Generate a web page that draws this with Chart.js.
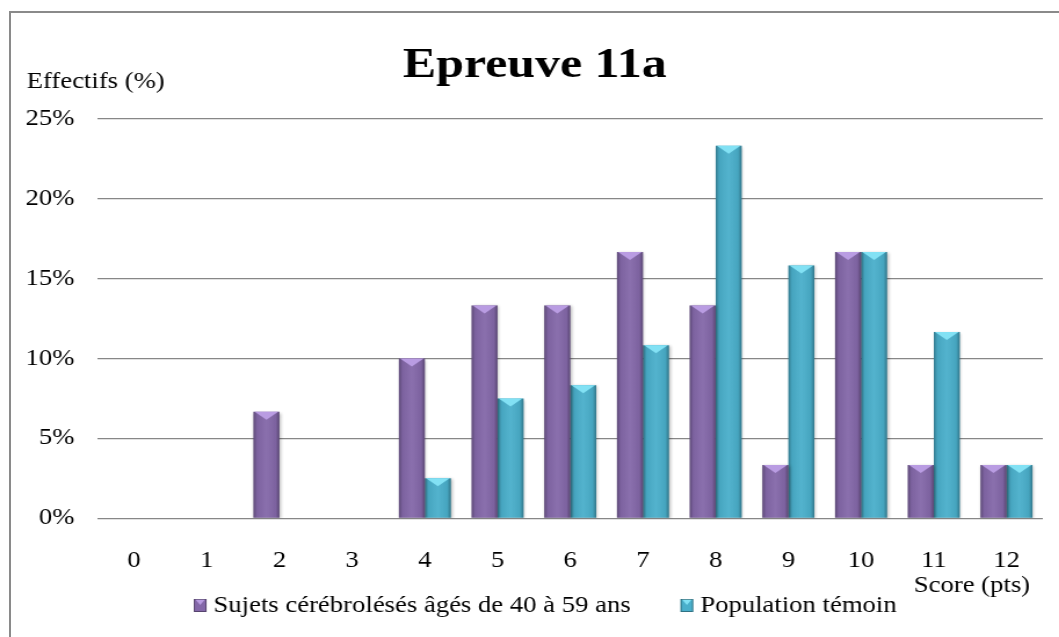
<!DOCTYPE html>
<html>
<head>
<meta charset="utf-8">
<title>Epreuve 11a</title>
<script src="https://cdn.jsdelivr.net/npm/chart.js@4.4.0/dist/chart.umd.min.js"></script>
<style>
  html, body { margin: 0; padding: 0; background: #fff; overflow: hidden; }
  #frame {
    position: absolute; left: 9px; top: 11px; width: 1200px; height: 800px;
    border-left: 2px solid #8a8a8a; border-top: 2px solid #8a8a8a;
  }
  /* the reference is stretched horizontally, so the canvas is too */
  #chart { position: absolute; left: 0; top: 0; transform: scaleX(1.16); transform-origin: 0 0; }
</style>
</head>
<body>
<div id="frame"></div>
<canvas id="chart" width="913" height="637"></canvas>
<script>
// Data
const scores  = ["0", "1", "2", "3", "4", "5", "6", "7", "8", "9", "10", "11", "12"];
const sujets  = [0, 0, 6.67, 0, 10, 13.33, 13.33, 16.67, 13.33, 3.33, 16.67, 3.33, 3.33];
const temoins = [0, 0, 0, 0, 2.5, 7.5, 8.33, 10.83, 23.33, 15.83, 16.67, 11.67, 3.33];
const yTicks  = [0, 5, 10, 15, 20, 25];

const SERIF = '"Liberation Serif", "Times New Roman", serif';
const GRID  = "#878787";

// titles, axis captions and legend drawn on top + bar bevels
const decor = {
  id: "decor",
  beforeDatasetsDraw(chart) {
    const c = chart.ctx;
    c.save();
    c.shadowColor = "rgba(0,0,0,0.28)";
    c.shadowBlur = 3;
    c.shadowOffsetX = 1;
    c.shadowOffsetY = 1;
  },
  afterDatasetsDraw(chart) {
    const c = chart.ctx;
    c.restore();
    chart.data.datasets.forEach((ds, di) => {
      chart.getDatasetMeta(di).data.forEach(bar => {
        const { x, y, base, width } = bar.getProps(["x", "y", "base", "width"], true);
        const h = base - y;
        if (h < 1) return;
        const l = x - width / 2, r = x + width / 2;
        const g = c.createLinearGradient(l, 0, r, 0);
        g.addColorStop(0, "rgba(0,0,0,0.30)");
        g.addColorStop(0.14, "rgba(0,0,0,0.06)");
        g.addColorStop(0.5, "rgba(255,255,255,0.05)");
        g.addColorStop(0.86, "rgba(0,0,0,0.06)");
        g.addColorStop(1, "rgba(0,0,0,0.32)");
        c.fillStyle = g;
        c.fillRect(l, y, width, h);
        const th = Math.min(8, h);
        c.fillStyle = ds.bevel;
        c.beginPath();
        c.moveTo(l + 1, y);
        c.lineTo(r - 1, y);
        c.lineTo(x, y + th);
        c.closePath();
        c.fill();
      });
    });
  },
  afterDraw(chart) {
    const c = chart.ctx;
    c.save();
    c.fillStyle = "#000";
    c.textBaseline = "alphabetic";

    c.font = "bold 43px " + SERIF;
    c.textAlign = "center";
    c.fillText("Epreuve 11a", 461, 77);

    c.font = "23px " + SERIF;
    c.textAlign = "left";
    c.fillText("Effectifs (%)", 23, 88);
    c.textAlign = "right";
    c.fillText("Score (pts)", 888, 592);

    // legend
    c.textAlign = "left";
    const items = chart.data.datasets.map(ds => ({ label: ds.label, color: ds.backgroundColor, bevel: ds.bevel }));
    const box = 11, gap = 6, spacing = 43;
    const widths = items.map(it => box + gap + c.measureText(it.label).width);
    const total = widths.reduce((a, b) => a + b, 0) + spacing * (items.length - 1);
    let lx = 470 - total / 2;
    items.forEach((it, i) => {
      c.fillStyle = it.color;
      c.fillRect(lx, 599, box, 13);
      c.fillStyle = it.bevel;
      c.beginPath();
      c.moveTo(lx + 1, 599); c.lineTo(lx + box - 1, 599); c.lineTo(lx + box / 2, 605);
      c.closePath(); c.fill();
      c.strokeStyle = "rgba(0,0,0,0.35)";
      c.lineWidth = 1;
      c.strokeRect(lx + 0.5, 599.5, box - 1, 12);
      c.fillStyle = "#000";
      c.fillText(it.label, lx + box + gap, 612);
      lx += widths[i] + spacing;
    });
    c.restore();
  }
};

new Chart(document.getElementById("chart"), {
  type: "bar",
  data: {
    labels: scores,
    datasets: [
      { label: "Sujets cérébrolésés âgés de 40 à 59 ans", data: sujets,
        backgroundColor: "#8468A9", bevel: "#B99CE2" },
      { label: "Population témoin", data: temoins,
        backgroundColor: "#4AAFCB", bevel: "#82E1F4" }
    ]
  },
  options: {
    responsive: false,
    animation: false,
    devicePixelRatio: 1,
    layout: { padding: { left: 0, right: 14, top: 119, bottom: 0 } },
    datasets: { bar: { categoryPercentage: 0.715, barPercentage: 1.0, borderWidth: 0 } },
    scales: {
      x: {
        grid: { display: false },
        border: { display: false },
        ticks: { color: "#000", padding: 21, font: { family: SERIF, size: 23 } },
        afterFit: s => { s.height = 118.7; }
      },
      y: {
        min: 0, max: 25,
        afterBuildTicks: s => { s.ticks = yTicks.map(v => ({ value: v })); },
        grid: { color: GRID, lineWidth: 1.3, drawTicks: false },
        border: { display: false },
        ticks: { color: "#000", padding: 20, font: { family: SERIF, size: 23 }, callback: v => v + "%" },
        afterFit: s => { s.width = 84.2; }
      }
    },
    plugins: {
      legend: { display: false },
      title: { display: false },
      tooltip: { enabled: false }
    }
  },
  plugins: [decor]
});
</script>
</body>
</html>
